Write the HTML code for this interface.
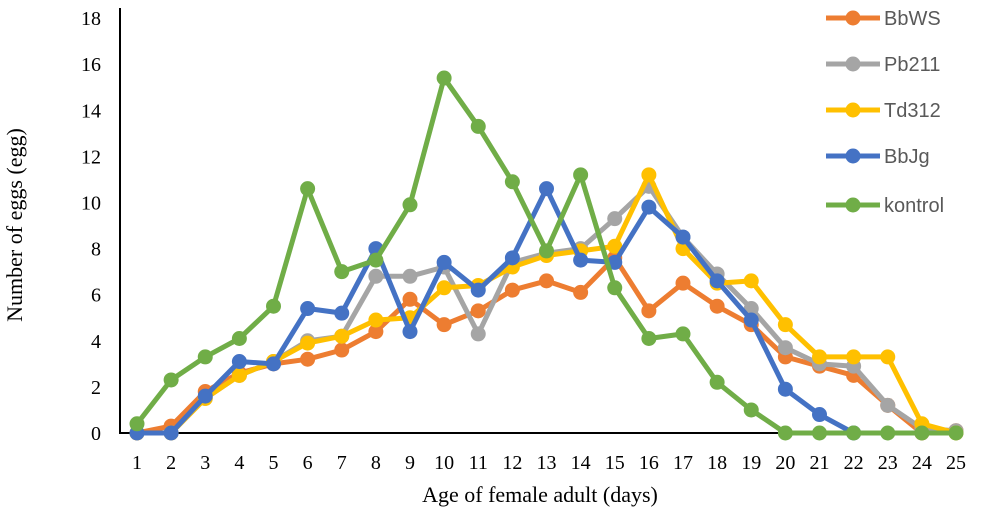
<!DOCTYPE html>
<html><head><meta charset="utf-8"><style>
body{margin:0;background:#fff;width:1008px;height:509px;overflow:hidden}
</style></head><body>
<svg id="c" width="1008" height="509" xmlns="http://www.w3.org/2000/svg" style="font-family:'Liberation Serif',serif"></svg>
<script>
const s=document.getElementById('c');
const X=d=>137+(d-1)*34.125, Y=v=>433-v*23.05;
let h='';
h+='<line x1="120" y1="8" x2="120" y2="434" stroke="#000" stroke-width="2"/>';
h+='<line x1="119" y1="433" x2="962" y2="433" stroke="#000" stroke-width="2"/>';
for(let v=0;v<=18;v+=2)h+=`<text x="101" y="${Y(v)+7}" font-size="20" text-anchor="end">${v}</text>`;
for(let d=1;d<=25;d++)h+=`<text x="${X(d)}" y="469" font-size="20" text-anchor="middle">${d}</text>`;
h+='<text x="540" y="502" font-size="22" text-anchor="middle">Age of female adult (days)</text>';
h+='<text transform="translate(22,225) rotate(-90)" font-size="22" text-anchor="middle">Number of eggs (egg)</text>';
const S=[
['BbWS','#ED7D31',[0,0.3,1.8,2.6,3.0,3.2,3.6,4.4,5.8,4.7,5.3,6.2,6.6,6.1,7.6,5.3,6.5,5.5,4.7,3.3,2.9,2.5,1.2,0,0.1]],
['Pb211','#A5A5A5',[0,0,1.5,2.5,3.1,4.0,4.2,6.8,6.8,7.2,4.3,7.4,7.8,8.0,9.3,10.7,8.5,6.9,5.4,3.7,3.0,2.9,1.2,0.2,0.1]],
['Td312','#FFC000',[0,0,1.5,2.5,3.1,3.9,4.2,4.9,5.0,6.3,6.4,7.2,7.7,7.9,8.1,11.2,8.0,6.5,6.6,4.7,3.3,3.3,3.3,0.4,0]],
['BbJg','#4472C4',[0,0,1.6,3.1,3.0,5.4,5.2,8.0,4.4,7.4,6.2,7.6,10.6,7.5,7.4,9.8,8.5,6.6,4.9,1.9,0.8,0]],
['kontrol','#70AD47',[0.4,2.3,3.3,4.1,5.5,10.6,7.0,7.5,9.9,15.4,13.3,10.9,7.9,11.2,6.3,4.1,4.3,2.2,1.0,0,0,0,0,0,0]]];
const LY=[18,64,110,156,205];
S.forEach((se,i)=>{
 const p=se[2].map((v,j)=>X(j+1).toFixed(1)+','+Y(v).toFixed(1));
 h+=`<polyline points="${p.join(' ')}" fill="none" stroke="${se[1]}" stroke-width="5" stroke-linejoin="round"/>`;
 se[2].forEach((v,j)=>h+=`<circle cx="${X(j+1)}" cy="${Y(v)}" r="7.5" fill="${se[1]}"/>`);
 h+=`<line x1="826" y1="${LY[i]}" x2="880" y2="${LY[i]}" stroke="${se[1]}" stroke-width="5"/><circle cx="853" cy="${LY[i]}" r="7.5" fill="${se[1]}"/>`;
 h+=`<text x="884" y="${LY[i]+7}" font-size="20" fill="#595959" font-family="Liberation Sans,sans-serif">${se[0]}</text>`;
});
s.innerHTML=h;
</script>
</body></html>
